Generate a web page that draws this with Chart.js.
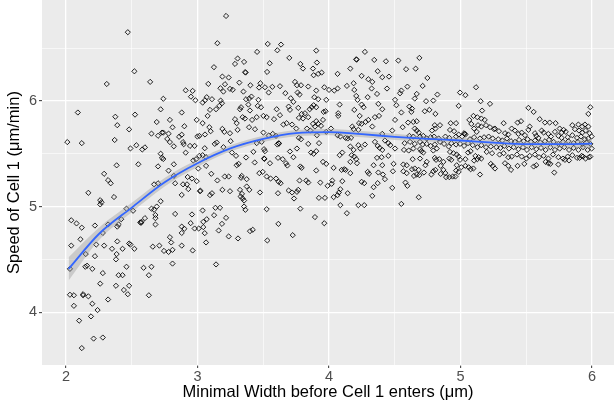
<!DOCTYPE html>
<html>
<head>
<meta charset="utf-8">
<script src="https://cdn.jsdelivr.net/npm/chart.js@4.4.1/dist/chart.umd.min.js"></script>
<style>
html,body{margin:0;padding:0;background:#fff;}
#wrap{width:614px;height:411px;}
</style>
</head>
<body>
<div id="wrap"><canvas id="c" width="614" height="411"></canvas></div>
<script>
// Scatter points: minimal width (x) and speed of cell 1 (y)
const widthX = [
2.01,2.47,2.52,2.31,2.64,2.09,2.12,2.375,2.39,2.525,2.48,2.37,2.535,2.49,2.58,2.60,2.55,2.385,2.29,2.32,
2.34,2.17,2.26,2.26,2.27,2.365,2.46,2.51,2.04,2.08,2.12,2.22,2.32,2.40,2.39,2.42,2.11,2.04,2.15,2.23,
2.29,2.35,2.39,2.43,2.385,2.38,2.48,2.49,2.52,2.22,2.03,2.16,2.20,2.28,2.40,2.43,2.46,2.26,2.38,2.48,
2.44,2.47,2.03,2.06,2.13,2.13,2.17,2.32,2.63,2.06,2.20,2.24,2.19,2.10,2.21,2.28,2.12,2.565,2.57,2.575,
2.60,2.59,2.63,2.65,2.66,2.68,2.68,2.65,2.67,2.69,2.72,2.67,2.70,2.70,2.70,2.73,2.74,2.72,2.74,2.69,
2.65,2.72,2.73,2.74,2.71,2.745,2.78,2.79,2.80,2.81,2.81,2.83,2.79,2.81,2.82,2.82,2.78,2.82,2.83,2.77,
2.79,2.78,2.86,2.88,2.88,2.89,2.895,2.91,2.90,2.88,2.89,2.92,2.925,2.88,2.90,2.88,2.88,2.91,2.95,2.93,
2.28,2.147,2.68,
3.217,3.151,3.534,3.635,3.607,3.453,3.698,3.305,3.285,3.354,3.549,3.125,3.366,3.362,3.529,3.189,3.237,3.082,3.209,3.318,
3.402,3.478,3.513,3.569,3.627,3.174,3.247,3.268,3.197,3.349,3.468,3.541,3.668,2.963,2.984,3.07,3.11,3.057,3.039,3.176,
3.186,3.369,3.394,3.41,3.463,3.709,3.729,3.166,3.141,3.095,3.331,3.323,3.387,3.458,3.483,3.399,3.602,3.693,3.703,3.077,
2.994,3.039,3.285,3.343,3.361,3.415,3.45,3.501,3.526,3.582,3.627,3.653,3.678,3.719,3.09,3.1,3.057,2.999,3.014,3.189,
3.204,3.247,3.298,3.305,3.392,3.437,3.501,3.541,3.572,3.597,3.146,3.131,3.197,3.252,2.943,2.978,3.055,3.014,3.039,2.989,
2.968,3.065,3.262,3.293,3.369,3.425,3.45,3.488,3.506,3.513,3.506,3.509,3.607,3.617,3.62,3.703,3.612,3.551,3.648,3.673,
3.683,3.729,3.065,3.006,3.298,3.313,3.435,3.105,3.151,3.207,3.237,3.331,3.336,3.374,3.47,3.496,3.526,3.556,3.597,3.617,
3.632,2.958,2.994,3.019,3.022,3.189,3.247,3.323,3.338,3.328,3.343,3.354,3.354,3.364,3.374,3.394,3.475,3.612,3.693,3.719,
3.734,3.11,3.095,3.136,3.171,3.039,3.126,3.07,3.044,2.958,2.948,3.217,3.186,2.978,3.009,3.044,3.161,3.055,3.065,3.237,
3.308,3.399,3.42,3.526,3.615,3.531,3.724,2.963,3.141,
3.903,4.273,4.207,4.21,3.782,3.802,3.908,4.344,4.433,4.527,3.878,4.162,4.065,3.944,3.918,3.883,4.248,4.37,4.405,4.456,
4.299,4.329,3.741,3.756,3.787,3.842,3.964,4.0,4.04,4.065,4.136,4.187,4.192,4.324,4.441,3.761,3.776,3.903,3.888,3.918,
3.979,4.207,4.217,4.294,4.365,4.502,4.512,4.081,4.248,4.263,4.375,4.405,3.766,3.853,3.868,3.883,3.903,3.792,3.817,3.959,
3.974,4.07,4.07,4.233,4.192,3.771,3.802,3.842,3.954,3.903,4.278,4.299,4.349,4.38,4.502,3.878,3.893,3.918,3.939,4.228,
4.248,4.329,3.751,3.832,3.858,4.015,4.177,4.187,4.223,4.481,3.771,3.787,3.908,3.979,4.065,4.086,4.126,4.142,4.167,4.405,
4.349,4.37,4.385,4.405,4.425,4.451,4.466,3.756,3.842,3.924,4.162,4.187,4.223,4.238,4.273,4.502,3.863,3.883,3.903,4.081,
4.101,4.172,4.192,4.207,4.365,4.4,4.451,3.782,3.792,3.954,3.979,4.162,4.213,4.339,4.405,4.491,3.903,4.035,4.096,4.116,
4.126,4.162,4.294,4.304,4.375,4.41,4.486,3.776,3.827,3.842,3.766,3.756,3.934,3.989,4.02,4.025,4.086,4.075,4.065,4.101,
4.142,4.248,4.268,4.339,4.37,4.425,4.481,3.782,3.923,3.969,4.035,4.086,4.223,4.268,4.329,4.136,3.893,3.964,
4.687,4.586,4.659,4.748,4.596,4.712,4.55,4.54,4.824,4.667,4.652,4.738,4.793,4.996,5.037,5.118,5.153,5.224,4.986,4.611,
4.631,4.626,4.728,4.763,4.809,4.55,5.164,5.098,5.128,5.158,5.184,4.641,4.667,4.601,4.925,4.966,4.804,4.844,5.067,5.082,
5.133,5.158,5.194,5.224,5.255,4.56,4.652,4.667,4.682,4.783,4.809,4.92,4.951,5.027,5.037,5.032,5.103,5.123,4.611,4.641,
4.692,4.717,4.743,4.773,4.799,4.834,4.885,4.915,4.966,4.986,5.012,5.072,5.103,5.148,5.179,5.214,5.245,4.575,4.616,4.652,
4.692,4.712,4.743,4.773,4.804,4.844,4.875,4.91,4.93,4.966,4.996,5.027,5.057,5.093,5.128,5.158,5.194,5.23,4.57,4.606,
4.641,4.692,4.702,4.717,4.793,4.819,4.92,4.946,4.971,5.057,5.077,5.113,5.138,5.158,5.199,5.24,4.636,4.692,4.804,4.814,
4.839,4.915,4.93,4.986,4.996,5.037,5.103,5.128,5.23,5.245,4.565,4.591,4.733,4.743,4.87,4.849,4.971,5.006,5.037,5.062,
4.631,4.652,4.682,4.722,4.565,4.591,4.793,4.809,4.87,4.885,4.966,4.986,5.077,5.098,4.646,4.667,4.687,4.778,4.849,4.89,
4.915,4.94,4.961,5.148,4.581,4.596,4.682,4.55,
5.987,5.972,5.516,5.556,5.602,5.642,5.678,5.723,5.328,5.434,5.46,5.85,5.896,5.926,5.946,5.972,5.389,5.414,5.526,5.516,
5.617,5.632,5.754,5.784,5.8,5.769,5.718,5.87,5.901,5.926,5.951,5.982,5.997,5.262,5.292,5.338,5.363,5.44,5.465,5.49,
5.566,5.576,5.592,5.668,5.688,5.744,5.769,5.815,5.85,5.886,5.916,5.946,5.972,5.287,5.318,5.353,5.384,5.414,5.445,5.48,
5.51,5.536,5.566,5.607,5.642,5.673,5.708,5.744,5.779,5.82,5.86,5.891,5.926,5.957,5.987,5.272,5.303,5.333,5.368,5.404,
5.44,5.475,5.505,5.541,5.576,5.612,5.647,5.683,5.718,5.754,5.789,5.825,5.86,5.896,5.931,5.967,5.997,5.297,5.328,5.363,
5.389,5.429,5.465,5.5,5.526,5.566,5.597,5.632,5.668,5.703,5.744,5.779,5.815,5.85,5.886,5.921,5.951,5.987,5.338,5.363,
5.384,5.434,5.485,5.556,5.576,5.647,5.668,5.683,5.744,5.794,5.825,5.713,5.262,5.906,5.931,5.977
];
const speedY = [
5.61,6.65,6.28,6.16,6.18,5.89,5.60,5.85,5.77,5.87,5.73,5.63,5.58,5.55,5.54,5.56,5.40,5.39,5.31,5.25,
5.22,5.13,5.06,5.02,5.04,5.09,4.98,4.96,4.87,4.84,4.80,4.82,4.83,4.83,4.81,4.88,4.69,4.63,4.55,4.64,
4.63,4.60,4.67,4.60,4.55,4.50,4.65,4.64,4.60,4.53,4.41,4.44,4.41,4.37,4.35,4.35,4.43,4.27,4.25,4.25,
4.21,4.17,4.165,4.16,4.17,4.16,4.15,4.12,4.16,4.06,4.08,4.02,3.96,3.92,3.75,3.76,3.66,4.85,4.845,4.855,
4.89,4.42,4.35,4.43,4.62,4.83,4.89,4.98,4.97,5.00,5.05,5.21,5.22,5.38,5.67,5.70,5.70,5.92,6.02,5.80,
5.69,5.50,5.46,5.45,4.63,4.58,4.57,4.71,4.66,4.59,4.46,4.93,5.82,5.75,5.57,5.40,5.34,5.29,5.22,5.64,
5.61,5.69,5.66,5.89,5.68,5.61,5.59,5.51,5.76,5.11,5.21,5.21,5.28,4.81,4.79,4.75,4.63,6.10,6.04,5.165,
4.75,4.43,4.92,
6.804,6.546,6.539,6.533,6.479,6.464,6.407,6.401,6.35,6.369,6.356,6.319,6.268,6.272,6.274,6.23,6.221,6.161,6.158,6.173,
6.148,6.167,6.129,6.133,6.139,6.12,6.114,6.105,6.088,6.088,6.126,6.079,6.073,6.095,6.006,6.035,6.016,6.006,5.984,6.003,
5.978,6.016,6.022,6.041,6.01,6.025,5.991,5.953,5.921,5.915,5.94,5.921,5.965,5.953,5.94,5.909,5.921,5.946,5.915,5.858,
5.82,5.789,5.827,5.846,5.833,5.82,5.846,5.858,5.846,5.827,5.865,5.776,5.789,5.776,5.751,5.713,5.682,5.663,5.669,5.735,
5.707,5.694,5.789,5.726,5.751,5.732,5.7,5.672,5.688,5.669,5.606,5.593,5.562,5.619,5.574,5.574,5.552,5.48,5.486,5.448,
5.436,5.467,5.511,5.48,5.464,5.518,5.6,5.612,5.543,5.524,5.455,5.45,5.587,5.6,5.596,5.521,5.461,5.41,5.448,5.41,
5.388,5.467,5.385,5.36,5.391,5.404,5.417,5.31,5.247,5.284,5.284,5.272,5.29,5.259,5.316,5.328,5.284,5.265,5.265,5.234,
5.221,5.265,5.24,5.145,5.15,5.158,5.145,5.158,5.12,5.095,5.076,5.057,5.0,4.969,5.19,5.158,5.133,5.126,5.152,5.133,
5.076,5.126,5.108,4.988,4.988,4.963,4.918,4.88,4.855,4.925,4.843,4.893,4.836,4.792,4.792,4.805,4.773,4.748,4.66,4.717,
4.698,4.767,4.78,4.975,4.836,4.679,4.729,4.584,4.452,
6.476,6.464,6.394,6.39,6.35,6.306,6.363,6.388,6.375,6.382,6.306,6.306,6.256,6.268,6.256,6.243,6.237,6.281,6.224,6.23,
6.205,6.18,6.18,6.148,6.148,6.136,6.129,6.104,6.098,6.117,6.142,6.167,6.104,6.117,6.117,6.079,6.06,6.098,6.035,6.016,
6.01,6.047,6.01,6.035,6.066,6.01,5.959,5.965,5.965,5.94,5.972,5.921,5.934,5.921,5.94,5.959,5.94,5.877,5.883,5.896,
5.902,5.883,5.858,5.858,5.915,5.839,5.833,5.846,5.82,5.808,5.801,5.82,5.846,5.858,5.82,5.783,5.757,5.783,5.764,5.789,
5.783,5.757,5.738,5.738,5.719,5.738,5.757,5.732,5.726,5.719,5.65,5.637,5.675,5.707,5.675,5.663,5.65,5.644,5.65,5.688,
5.612,5.574,5.555,5.536,5.625,5.6,5.581,5.549,5.593,5.6,5.568,5.536,5.581,5.549,5.587,5.549,5.511,5.499,5.524,5.486,
5.511,5.486,5.473,5.448,5.461,5.467,5.48,5.379,5.366,5.423,5.404,5.423,5.41,5.391,5.391,5.404,5.341,5.366,5.347,5.353,
5.347,5.316,5.328,5.31,5.322,5.303,5.334,5.246,5.246,5.227,5.158,5.139,5.227,5.196,5.215,5.246,5.164,5.133,5.108,5.24,
5.126,5.234,5.221,5.183,5.221,5.259,5.177,4.98,5.082,5.082,5.089,5.013,5.013,5.013,5.101,4.937,4.9,4.842,
6.407,6.3,6.305,6.217,6.135,6.142,6.098,6.072,6.06,6.066,6.022,5.997,6.003,6.079,6.054,6.129,5.997,5.972,5.953,5.946,
5.927,5.896,5.902,5.915,5.877,5.89,5.908,5.858,5.845,5.833,5.82,5.801,5.807,5.795,5.789,5.789,5.77,5.77,5.82,5.782,
5.77,5.757,5.77,5.751,5.732,5.751,5.738,5.719,5.7,5.719,5.738,5.725,5.713,5.694,5.681,5.688,5.738,5.707,5.669,5.662,
5.662,5.669,5.644,5.656,5.662,5.644,5.662,5.65,5.662,5.681,5.662,5.637,5.656,5.644,5.656,5.662,5.644,5.6,5.612,5.593,
5.612,5.587,5.593,5.574,5.587,5.612,5.593,5.568,5.6,5.587,5.593,5.574,5.6,5.581,5.562,5.581,5.562,5.568,5.536,5.53,
5.549,5.543,5.524,5.511,5.53,5.549,5.517,5.505,5.492,5.511,5.524,5.479,5.467,5.454,5.517,5.505,5.448,5.454,5.461,5.442,
5.448,5.454,5.442,5.473,5.442,5.448,5.435,5.448,5.404,5.385,5.398,5.391,5.391,5.423,5.423,5.385,5.391,5.372,5.385,5.372,
5.353,5.36,5.347,5.322,5.334,5.316,5.334,5.347,5.347,5.316,5.34,5.328,5.353,5.36,5.29,5.303,5.297,5.303,5.309,5.278,
5.278,5.284,5.284,5.303,5.227,5.196,5.088,5.025,
5.94,5.877,5.934,5.896,5.827,5.795,5.795,5.789,5.789,5.795,5.808,5.77,5.776,5.757,5.776,5.757,5.738,5.719,5.757,5.726,
5.719,5.7,5.738,5.726,5.707,5.7,5.707,5.732,5.719,5.7,5.719,5.694,5.663,5.738,5.713,5.694,5.682,5.688,5.7,5.675,
5.694,5.669,5.65,5.688,5.663,5.669,5.65,5.656,5.675,5.65,5.663,5.637,5.644,5.637,5.625,5.644,5.618,5.612,5.631,5.618,
5.637,5.612,5.625,5.606,5.618,5.631,5.612,5.593,5.612,5.618,5.6,5.612,5.593,5.606,5.593,5.562,5.555,5.574,5.549,5.562,
5.543,5.562,5.536,5.562,5.543,5.555,5.536,5.562,5.536,5.549,5.562,5.536,5.555,5.536,5.562,5.536,5.549,5.492,5.505,5.467,
5.473,5.492,5.473,5.454,5.48,5.492,5.467,5.48,5.454,5.492,5.467,5.454,5.473,5.486,5.461,5.48,5.454,5.473,5.41,5.385,
5.347,5.385,5.404,5.379,5.391,5.423,5.41,5.404,5.398,5.442,5.436,5.322,5.36,5.461,5.473,5.467
];

// Smoothed (loess) curve and its confidence band
const smoothX = [2.02,2.25,2.5,2.75,3.0,3.25,3.5,3.75,4.0,4.25,4.5,4.75,5.0,5.25,5.5,5.75,6.0];
const smoothY = [4.41,4.74,4.99,5.23,5.41,5.55,5.64,5.695,5.705,5.685,5.66,5.64,5.625,5.605,5.59,5.59,5.595];
const bandLower = [4.30,4.68,4.945,5.19,5.375,5.52,5.61,5.665,5.675,5.655,5.63,5.615,5.60,5.58,5.565,5.56,5.55];
const bandUpper = [4.52,4.80,5.035,5.27,5.445,5.58,5.67,5.725,5.735,5.715,5.69,5.665,5.65,5.63,5.615,5.62,5.64];

// Axis ticks (major labelled, minor unlabelled)
const xTicks = [2,2.5,3,3.5,4,4.5,5,5.5,6];
const yTicks = [3.5,4,4.5,5,5.5,6,6.5];
const xTitle = 'Minimal Width before Cell 1 enters (\u03bcm)';
const yTitle = 'Speed of Cell 1 (\u03bcm/min)';

const pts = widthX.map((x, i) => ({x: x, y: speedY[i]}));
const toXY = (ys) => smoothX.map((x, i) => ({x: x, y: ys[i]}));
const isMajor = (v) => Math.abs(v - Math.round(v)) < 1e-9;

const panelBg = {
  id: 'panelBg',
  beforeDraw(chart) {
    const a = chart.chartArea, ctx = chart.ctx;
    ctx.save();
    ctx.fillStyle = '#EBEBEB';
    ctx.fillRect(a.left, a.top, a.right - a.left, a.bottom - a.top);
    ctx.restore();
  }
};

const FONT = '"Liberation Sans", Arial, Helvetica, sans-serif';

function gridOpts() {
  return {
    color: '#FFFFFF',
    lineWidth: (c) => isMajor(c.tick.value) ? 1.3 : 0.6,
    drawTicks: true,
    tickLength: 3,
    tickWidth: 1,
    tickColor: (c) => isMajor(c.tick.value) ? '#333333' : 'rgba(0,0,0,0)'
  };
}

new Chart(document.getElementById('c'), {
  type: 'scatter',
  data: {
    datasets: [
      {
        type: 'line', data: toXY(smoothY), borderColor: '#3366FF', borderWidth: 1.8,
        pointRadius: 0, fill: false, cubicInterpolationMode: 'monotone', order: 0
      },
      {
        type: 'line', data: toXY(bandUpper), borderWidth: 0, borderColor: 'rgba(0,0,0,0)',
        backgroundColor: 'rgba(153,153,153,0.4)', pointRadius: 0, fill: '+1',
        cubicInterpolationMode: 'monotone', order: 1
      },
      {
        type: 'line', data: toXY(bandLower), borderWidth: 0, borderColor: 'rgba(0,0,0,0)',
        pointRadius: 0, fill: false, cubicInterpolationMode: 'monotone', order: 1
      },
      {
        data: pts, pointStyle: 'rectRot', pointRadius: 2.6, borderWidth: 0.95,
        borderColor: 'rgba(0,0,0,0.9)', backgroundColor: 'rgba(0,0,0,0)', order: 2
      }
    ]
  },
  options: {
    responsive: false,
    devicePixelRatio: 1,
    animation: false,
    events: [],
    layout: {padding: 0, autoPadding: false},
    plugins: {legend: {display: false}, tooltip: {enabled: false}},
    scales: {
      x: {
        type: 'linear', min: 1.8175, max: 6.167,
        afterBuildTicks: (s) => { s.ticks = xTicks.map(v => ({value: v})); },
        afterFit: (s) => { s.height = 46; s.paddingLeft = 0; s.paddingRight = 0; },
        border: {display: false},
        grid: gridOpts(),
        ticks: {
          padding: 2, color: '#4D4D4D', font: {family: FONT, size: 14.5, lineHeight: 1},
          maxRotation: 0, autoSkip: false,
          callback: (v) => isMajor(v) ? String(Math.round(v)) : ''
        },
        title: {
          display: true, text: xTitle, color: '#000000',
          font: {family: FONT, size: 16.5, lineHeight: 1}, padding: {top: 0, bottom: 10.5}
        }
      },
      y: {
        type: 'linear', min: 3.5, max: 6.955,
        afterBuildTicks: (s) => { s.ticks = yTicks.map(v => ({value: v})); },
        afterFit: (s) => { s.width = 42; s.paddingTop = 0; s.paddingBottom = 0; },
        border: {display: false},
        grid: gridOpts(),
        ticks: {
          padding: 2, color: '#4D4D4D', font: {family: FONT, size: 14.5, lineHeight: 1},
          autoSkip: false,
          callback: (v) => isMajor(v) ? String(Math.round(v)) : ''
        },
        title: {
          display: true, text: yTitle, color: '#000000',
          font: {family: FONT, size: 16.5, lineHeight: 1}, padding: {top: 6.5, bottom: 0}
        }
      }
    }
  },
  plugins: [panelBg]
});
</script>
</body>
</html>
